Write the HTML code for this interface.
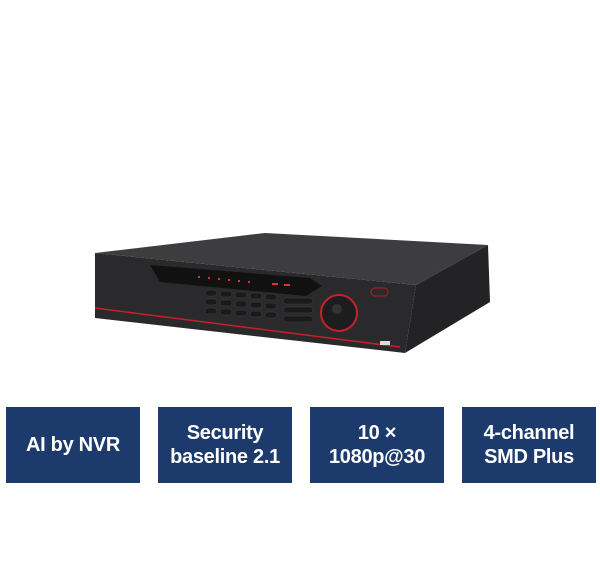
<!DOCTYPE html>
<html><head><style>
body{margin:0;width:600px;height:562px;background:#fff;overflow:hidden;position:relative;font-family:"Liberation Sans",sans-serif}
.b{position:absolute;top:407px;width:134px;height:76px;background:#1c3a6c;color:#fff;font-weight:bold;font-size:20px;line-height:24px;display:flex;align-items:center;justify-content:center;text-align:center;letter-spacing:-0.3px}
</style></head><body>
<svg width="600" height="562" style="position:absolute;left:0;top:0">
<polygon points="95,253 265,233 488,245 416,285" fill="#3d3d40"/>
<polygon points="95,253 416,285 405,353 95,318" fill="#2a2a2c"/>
<polygon points="416,285 488,245 490,302 405,353" fill="#232325"/>
<polygon points="150,265 310,278 322,286 306,296 160,282" fill="#111"/>
<line x1="95" y1="308" x2="400" y2="347" stroke="#c8202a" stroke-width="1.5"/>
<g fill="#e23030"><rect x="198" y="276" width="2" height="2"/><rect x="208" y="277" width="2" height="2"/><rect x="218" y="278" width="2" height="2"/><rect x="228" y="279" width="2" height="2"/><rect x="238" y="280" width="2" height="2"/><rect x="248" y="281" width="2" height="2"/><rect x="272" y="283" width="6" height="2"/><rect x="284" y="284" width="6" height="2"/></g>
<g fill="#1a1a1a" stroke="#444" stroke-width="0.5">
<rect x="205" y="290" width="12" height="6" rx="3"/><rect x="220" y="291" width="12" height="6" rx="3"/><rect x="235" y="292" width="12" height="6" rx="3"/><rect x="250" y="293" width="12" height="6" rx="3"/><rect x="265" y="294" width="12" height="6" rx="3"/>
<rect x="205" y="299" width="12" height="6" rx="3"/><rect x="220" y="300" width="12" height="6" rx="3"/><rect x="235" y="301" width="12" height="6" rx="3"/><rect x="250" y="302" width="12" height="6" rx="3"/><rect x="265" y="303" width="12" height="6" rx="3"/>
<rect x="205" y="308" width="12" height="6" rx="3"/><rect x="220" y="309" width="12" height="6" rx="3"/><rect x="235" y="310" width="12" height="6" rx="3"/><rect x="250" y="311" width="12" height="6" rx="3"/><rect x="265" y="312" width="12" height="6" rx="3"/>
<rect x="283" y="298" width="30" height="6" rx="3"/><rect x="283" y="307" width="30" height="6" rx="3"/><rect x="283" y="316" width="30" height="6" rx="3"/>
</g>
<circle cx="339" cy="313" r="18" fill="#1d1d1f" stroke="#c8202a" stroke-width="2"/>
<circle cx="337" cy="309" r="5" fill="#333"/>
<rect x="371" y="288" width="17" height="8" rx="4" fill="#2a2a2a" stroke="#b02028"/>
<rect x="380" y="341" width="10" height="4" fill="#ddd"/>
</svg>
<div class="b" style="left:6px">AI by NVR</div>
<div class="b" style="left:158px">Security<br>baseline 2.1</div>
<div class="b" style="left:310px">10 ×<br>1080p@30</div>
<div class="b" style="left:462px">4-channel<br>SMD Plus</div>
</body></html>
